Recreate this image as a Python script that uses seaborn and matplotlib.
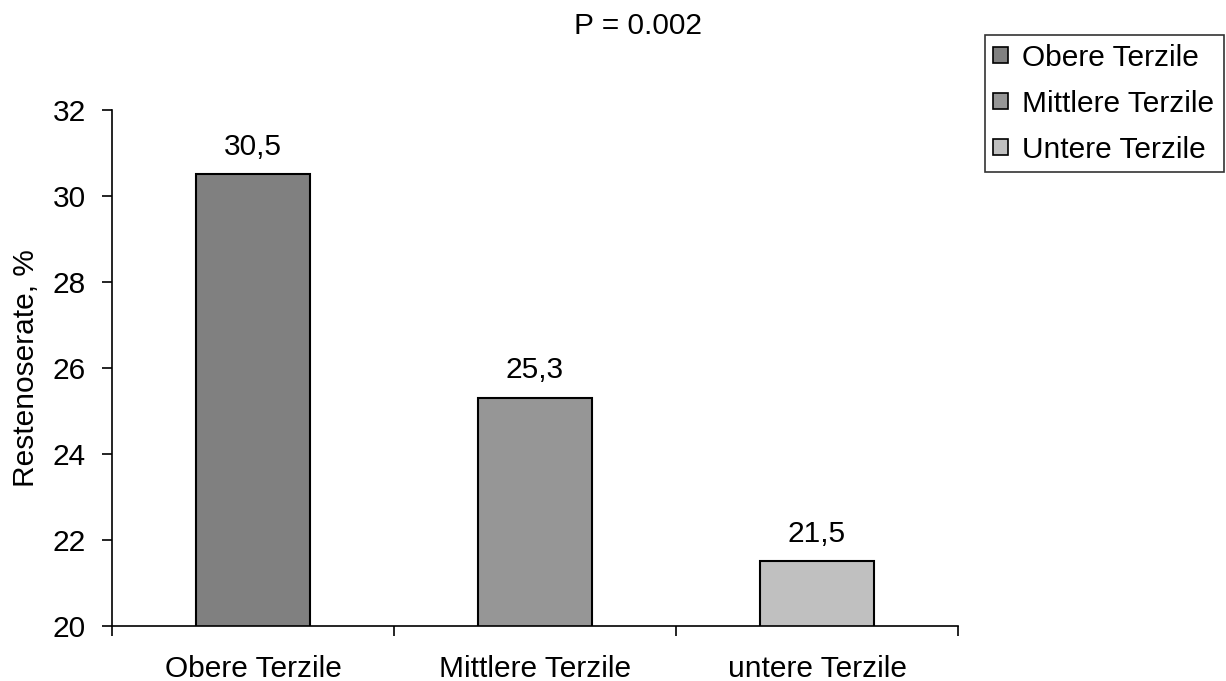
import matplotlib
matplotlib.use("Agg")
import matplotlib.pyplot as plt
from matplotlib.patches import Patch
import seaborn as sns
import pandas as pd

categories = ["Obere Terzile", "Mittlere Terzile", "untere Terzile"]
legend_labels = ["Obere Terzile", "Mittlere Terzile", "Untere Terzile"]
values = [30.5, 25.3, 21.5]
value_labels = ["30,5", "25,3", "21,5"]
bar_colors = ["#808080", "#969696", "#c0c0c0"]
y_ticks = [20, 22, 24, 26, 28, 30, 32]
title_text = "P = 0.002"
y_label = "Restenoserate, %"

sns.set_style("white")
plt.rcParams["font.family"] = ["Liberation Sans", "DejaVu Sans"]
plt.rcParams.update({
    "text.color": "black",
    "axes.labelcolor": "black",
    "xtick.color": "black",
    "ytick.color": "black",
})
FS = 21.5

df = pd.DataFrame({"group": categories, "rate": values})

fig = plt.figure(figsize=(12.26, 6.81), dpi=100)
ax = fig.add_axes([0.0914, 0.0808, 0.6900, 0.7577])

sns.barplot(data=df, x="group", y="rate", hue="group", palette=bar_colors,
            dodge=False, width=0.405, edgecolor="black", linewidth=1.5,
            legend=False, ax=ax, saturation=1)

ax.set_ylim(20, 32)
ax.set_xlim(-0.5, 2.5)
ax.set_yticks(y_ticks)
ax.set_yticklabels([str(t) for t in y_ticks], fontsize=FS)
ax.set_xticks(range(len(categories)))
ax.set_xticklabels(categories, fontsize=FS)
ax.tick_params(axis="x", which="major", length=0, pad=21, bottom=True)
ax.set_xticks([-0.5, 0.5, 1.5, 2.5], minor=True)
ax.tick_params(axis="x", which="minor", length=7, width=1.2, direction="out",
               color="black", bottom=True)
ax.tick_params(axis="y", length=7, width=1.2, direction="out", color="black",
               pad=12, left=True)

for side in ["top", "right"]:
    ax.spines[side].set_visible(False)
for side in ["left", "bottom"]:
    ax.spines[side].set_color("black")
    ax.spines[side].set_linewidth(1.2)

ax.set_xlabel("")
ax.set_ylabel(y_label, fontsize=FS, labelpad=9)

for i, (v, lab) in enumerate(zip(values, value_labels)):
    ax.annotate(lab, (i, v), xytext=(0, 10), textcoords="offset points",
                ha="center", va="bottom", fontsize=FS)

fig.text(0.52, 0.962, title_text, ha="center", va="center", fontsize=FS)

handles = [Patch(facecolor=c, edgecolor="black", linewidth=1.2) for c in bar_colors]
leg = fig.legend(handles, legend_labels, loc="upper right", bbox_to_anchor=(0.998, 0.949),
                 fontsize=FS, frameon=True, fancybox=False, handlelength=0.47,
                 handleheight=0.47, handletextpad=0.5, borderpad=0.3, labelspacing=0.6,
                 borderaxespad=0)
leg.get_frame().set_edgecolor("black")
leg.get_frame().set_linewidth(1.2)

fig.savefig("out.png", dpi=100, facecolor="white")
